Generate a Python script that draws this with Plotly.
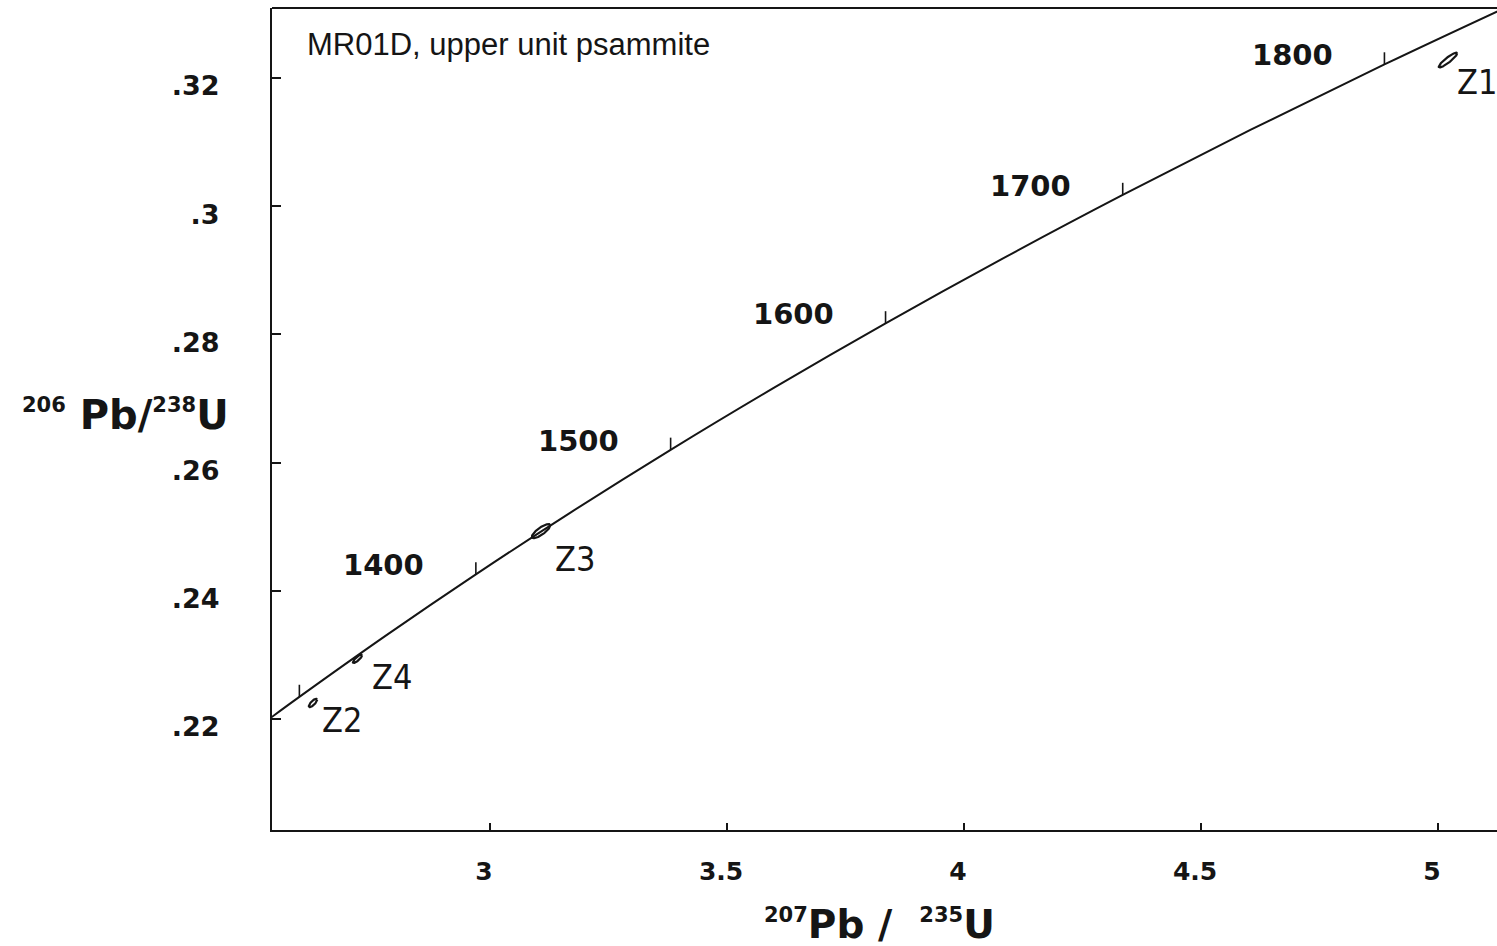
import numpy as np
import plotly.graph_objects as go

# Concordia curve (age in Ma and the matching isotope ratios)
ages = [1280, 1300, 1350, 1400, 1450, 1500, 1550, 1600, 1650, 1700, 1750, 1800, 1850]
pb207_u235 = [2.52757, 2.59774, 2.77933, 2.97009, 3.17049, 3.38099, 3.60212,
              3.83442, 4.07843, 4.33477, 4.60404, 4.88691, 5.18405]
pb206_u238 = [0.21965, 0.22344, 0.23296, 0.24256, 0.25224, 0.26199, 0.27181,
              0.28172, 0.29170, 0.30175, 0.31189, 0.32211, 0.33240]

# Ages marked with a tick on the curve, and those that carry a label
tick_ages = [1300, 1400, 1500, 1600, 1700, 1800]
label_ages = [1400, 1500, 1600, 1700, 1800]

# Zircon analyses: centre, ellipse half-widths and error correlation
zircon = ["Z1", "Z2", "Z3", "Z4"]
zr_x = [5.021, 2.6265, 3.1075, 2.7204]
zr_y = [0.3228, 0.2225, 0.2493, 0.2294]
zr_sx = [0.0194, 0.00873, 0.0193, 0.00973]
zr_sy = [0.001147, 0.000646, 0.00110, 0.000658]
zr_rho = [0.905, 0.77, 0.80, 0.84]

x_ticks = [3, 3.5, 4, 4.5, 5]
x_ticktext = ["3", "3.5", "4", "4.5", "5"]
y_ticks = [0.22, 0.24, 0.26, 0.28, 0.30, 0.32]
y_ticktext = [".22", ".24", ".26", ".28", ".3", ".32"]

title_text = "MR01D, upper unit psammite"

INK = "#151515"
NUM_FONT = "DejaVu Sans"
TXT_FONT = "Liberation Sans, Arial, sans-serif"
NARROW_FONT = "DejaVu Sans Condensed, Liberation Sans Narrow, sans-serif"

fig = go.Figure()

# concordia curve
fig.add_trace(go.Scatter(
    x=pb207_u235, y=pb206_u238, mode="lines",
    line=dict(color=INK, width=2, shape="spline", smoothing=1.0),
    hoverinfo="skip", showlegend=False))

# short age ticks rising from the curve
tick_len = 0.0019
tx, ty = [], []
for a in tick_ages:
    i = ages.index(a)
    tx += [pb207_u235[i], pb207_u235[i], None]
    ty += [pb206_u238[i], pb206_u238[i] + tick_len, None]
fig.add_trace(go.Scatter(x=tx, y=ty, mode="lines",
                         line=dict(color=INK, width=1.6),
                         hoverinfo="skip", showlegend=False))

# error ellipses
theta = np.linspace(0, 2 * np.pi, 120)
for cx, cy, sx, sy, r in zip(zr_x, zr_y, zr_sx, zr_sy, zr_rho):
    ex = cx + sx * np.cos(theta)
    ey = cy + sy * (r * np.cos(theta) + np.sqrt(1 - r * r) * np.sin(theta))
    fig.add_trace(go.Scatter(x=ex, y=ey, mode="lines",
                             line=dict(color=INK, width=2.2),
                             hoverinfo="skip", showlegend=False))

annotations = []

# age labels, placed up and to the left of each tick
for a in label_ages:
    i = ages.index(a)
    annotations.append(dict(
        x=pb207_u235[i], y=pb206_u238[i], xref="x", yref="y",
        text=str(a), showarrow=False, xshift=-92, yshift=9,
        font=dict(family=NUM_FONT, size=29, color=INK, weight="bold"),
        xanchor="center", yanchor="middle"))

# zircon labels beside their ellipses
label_offset = {"Z1": (29, -22), "Z2": (29, -17), "Z3": (34, -28), "Z4": (34, -18)}
for name, cx, cy in zip(zircon, zr_x, zr_y):
    dx, dy = label_offset[name]
    annotations.append(dict(
        x=cx, y=cy, xref="x", yref="y", text=name, showarrow=False,
        xshift=dx, yshift=dy, xanchor="center", yanchor="middle",
        font=dict(family=NARROW_FONT, size=34, color=INK)))

# sample name
annotations.append(dict(
    x=0.027, y=0.955, xref="paper", yref="paper", text=title_text,
    showarrow=False, xanchor="left", yanchor="middle",
    font=dict(family=TXT_FONT, size=31, color=INK)))

# axis titles (small superscript mass numbers)
SUP = "<sup><span style='font-size:21px'>{}</span></sup>"
annotations.append(dict(
    x=0, y=0.505, xref="paper", yref="paper", xshift=-41,
    text=SUP.format("206") + " Pb/" + SUP.format("238") + "U", showarrow=False,
    xanchor="right", yanchor="middle",
    font=dict(family=NUM_FONT, size=40, color=INK, weight="bold")))
annotations.append(dict(
    x=(879 - 272) / 1225, y=0, xref="paper", yref="paper", yshift=-94,
    text=SUP.format("207") + "Pb /  " + SUP.format("235") + "U", showarrow=False,
    xanchor="center", yanchor="middle",
    font=dict(family=NUM_FONT, size=39, color=INK, weight="bold")))

# top frame line
shapes = [dict(type="line", xref="paper", yref="paper", x0=0, x1=1, y0=1, y1=1,
               line=dict(color=INK, width=2))]

fig.update_layout(
    width=1497, height=946,
    margin=dict(l=272, r=0, t=8, b=116),
    paper_bgcolor="white", plot_bgcolor="white",
    annotations=annotations, shapes=shapes,
    xaxis=dict(range=[2.540, 5.1244], tickvals=x_ticks, ticktext=x_ticktext,
               showgrid=False, zeroline=False, showline=True, linecolor=INK,
               linewidth=2, ticks="inside", ticklen=7, tickwidth=1.6,
               tickcolor=INK, ticklabelstandoff=18, ticklabelshift=-6,
               tickfont=dict(family=NUM_FONT, size=25, color=INK, weight="bold")),
    yaxis=dict(range=[0.20268, 0.33092], tickvals=y_ticks, ticktext=y_ticktext,
               showgrid=False, zeroline=False, showline=True, linecolor=INK,
               linewidth=2, ticks="inside", ticklen=9, tickwidth=1.6,
               tickcolor=INK, ticklabelstandoff=45, ticklabelshift=8,
               tickfont=dict(family=NUM_FONT, size=27, color=INK, weight="bold")),
)

fig.write_html("out.html")
